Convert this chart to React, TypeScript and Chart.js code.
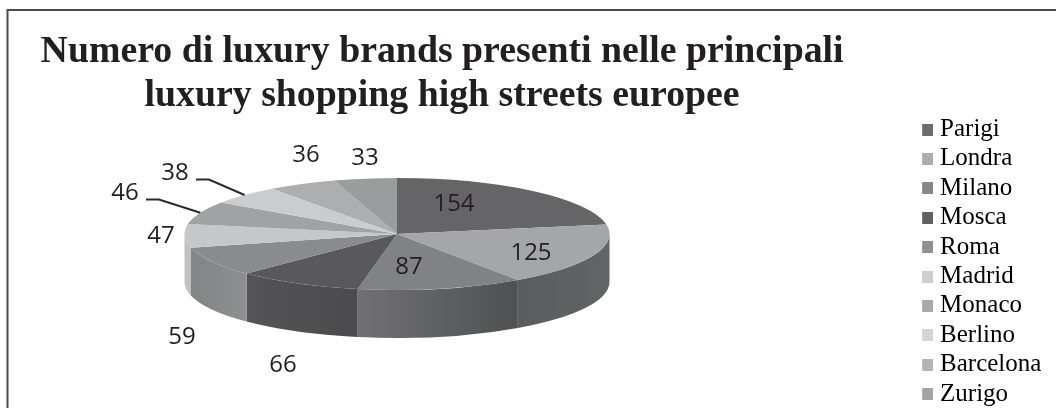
import { useEffect, useRef } from "react";
import { Chart, registerables } from "chart.js";

Chart.register(...registerables);

// Brands per high street
const cities = ["Parigi", "Londra", "Milano", "Mosca", "Roma", "Madrid", "Monaco", "Berlino", "Barcelona", "Zurigo"];
const brandCounts = [154, 125, 87, 66, 59, 47, 46, 38, 36, 33];
const titleLines = ["Numero di luxury brands presenti nelle principali", "luxury shopping high streets europee"];

// Fills
const topColors = ["#656567", "#a5a6a8", "#818284", "#59595b", "#8a8b8d", "#c6c7c9", "#a1a2a4", "#cbcccd", "#adaeb0", "#9b9c9e"];
const legendColors = ["#6d6d6f", "#acadaf", "#858688", "#606062", "#8f9092", "#cdced0", "#a8a9ab", "#d3d4d5", "#b3b4b6", "#a3a4a6"];
const wallStart = ["#5a5a5c", "#5b5c5e", "#717173", "#545456", "#838486", "#c0c1c3", "#a0a0a0", "#c0c0c0", "#a0a0a0", "#909090"];
const wallEnd = ["#5e5f61", "#636466", "#4f5052", "#4b4b4d", "#8e8f91", "#c0c1c3", "#a0a0a0", "#c0c0c0", "#a0a0a0", "#909090"];

// Value label centres on the canvas
const labelX = [454, 531, 409, 283, 182, 161, 125, 175, 306, 365];
const labelY = [204, 253, 267, 365, 337, 236, 193, 173, 155, 158];

// Where the pie sits once tilted: ellipse centre, radii and wall depth
const disc = { cx: 397, cy: 234, rx: 212.5, ry: 56, depth: 48 };

// Square swatch for a legend row
function swatch(color: string) {
  const c = document.createElement("canvas");
  c.width = 12;
  c.height = 12;
  const g = c.getContext("2d")!;
  g.fillStyle = color;
  g.fillRect(0, 0, 12, 12);
  return c;
}

const tiltedPie = {
  id: "tiltedPie",
  afterLayout(chart: any) {
    // Centre the title block further left than the space beside the legend
    chart.titleBlock.right -= 38;
  },
  beforeDraw(chart: any) {
    const { ctx, width, height } = chart;
    ctx.save();
    ctx.fillStyle = "#ffffff";
    ctx.fillRect(0, 0, width, height);
    ctx.strokeStyle = "#4a4a4a";
    ctx.lineWidth = 2;
    ctx.beginPath();
    ctx.moveTo(7.5, height);
    ctx.lineTo(7.5, 10);
    ctx.lineTo(width, 10);
    ctx.stroke();
    ctx.restore();
  },
  beforeDatasetsDraw(chart: any) {
    const { ctx } = chart;
    const arcs = chart.getDatasetMeta(0).data;
    const { cx, cy, rx, ry, depth } = disc;

    // Front half of the side wall
    arcs.forEach((arc: any, i: number) => {
      const a0 = Math.max(arc.startAngle, 0);
      const a1 = Math.min(arc.endAngle, Math.PI);
      if (a1 <= a0) return;
      const x0 = cx + rx * Math.cos(a0);
      const x1 = cx + rx * Math.cos(a1);
      const grad = ctx.createLinearGradient(x1, 0, x0, 0);
      grad.addColorStop(0, wallStart[i]);
      grad.addColorStop(1, wallEnd[i]);
      ctx.beginPath();
      ctx.ellipse(cx, cy, rx, ry, 0, a0, a1);
      ctx.ellipse(cx, cy + depth, rx, ry, 0, a1, a0, true);
      ctx.closePath();
      ctx.fillStyle = grad;
      ctx.fill();
    });

    // Squash the library's own arcs into the top face
    const el = arcs[0];
    ctx.save();
    ctx.translate(cx, cy);
    ctx.scale(rx / el.outerRadius, ry / el.outerRadius);
    ctx.translate(-el.x, -el.y);
  },
  afterDatasetsDraw(chart: any) {
    const { ctx } = chart;
    ctx.restore();
    const arcs = chart.getDatasetMeta(0).data;
    const { cx, cy, rx, ry } = disc;

    // Leader lines for the two labels that sit away from their slices
    ctx.save();
    ctx.strokeStyle = "#2b2b2b";
    ctx.lineWidth = 2;
    [6, 7].forEach((i) => {
      const mid = (arcs[i].startAngle + arcs[i].endAngle) / 2;
      ctx.beginPath();
      ctx.moveTo(labelX[i] + 21, labelY[i] + 6.5);
      ctx.lineTo(labelX[i] + 34, labelY[i] + 6.5);
      ctx.lineTo(cx + rx * Math.cos(mid), cy + ry * Math.sin(mid));
      ctx.stroke();
    });

    ctx.fillStyle = "#231f20";
    ctx.font = '24px "Open Sans"';
    ctx.textAlign = "center";
    ctx.textBaseline = "middle";
    brandCounts.forEach((v, i) => ctx.fillText(String(v), labelX[i], labelY[i]));
    ctx.restore();
  },
};

export default function App() {
  const ref = useRef<HTMLCanvasElement>(null);
  useEffect(() => {
    const chart = new Chart(ref.current!, {
      type: "pie",
      data: {
        labels: cities,
        datasets: [{ data: brandCounts, backgroundColor: topColors, borderWidth: 0, clip: false } as any],
      },
      options: {
        responsive: false,
        animation: false,
        layout: { padding: { left: 0, right: 4.6, top: 0, bottom: -3 } },
        plugins: {
          tooltip: { enabled: false },
          title: {
            display: true,
            text: titleLines,
            fullSize: false,
            color: "#231f20",
            font: { family: '"Liberation Serif"', size: 37.8, weight: "bold", lineHeight: 1.164 },
            padding: { top: 30.2, bottom: 0 },
          },
          legend: {
            position: "right",
            align: "end",
            labels: {
              usePointStyle: true,
              pointStyleWidth: 1,
              boxHeight: 12,
              padding: 4.4,
              color: "#231f20",
              font: { family: '"Liberation Serif"', size: 25 },
              generateLabels: () =>
                cities.map((text, i) => ({
                  text,
                  fillStyle: legendColors[i],
                  strokeStyle: legendColors[i],
                  lineWidth: 0,
                  pointStyle: swatch(legendColors[i]),
                  index: i,
                })),
            },
          },
        },
      } as any,
      plugins: [tiltedPie],
    });
    return () => chart.destroy();
  }, []);
  return (
    <canvas
      ref={ref}
      width={1056}
      height={408}
      style={{ position: "fixed", left: 0, top: 0, display: "block" }}
    />
  );
}
